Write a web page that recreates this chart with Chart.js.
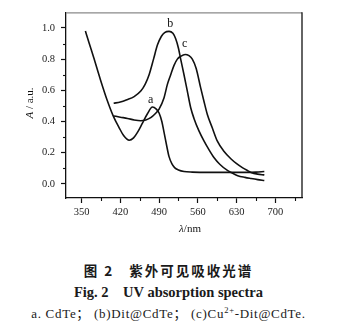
<!DOCTYPE html>
<html>
<head>
<meta charset="utf-8">
<script src="https://cdn.jsdelivr.net/npm/chart.js@4.4.1/dist/chart.umd.min.js"></script>
<style>
  html, body { margin: 0; padding: 0; background: #fff; }
  body { width: 337px; height: 334px; position: relative; overflow: hidden; }
  #chart { position: absolute; left: 0; top: 0; }
  .cap { position: absolute; left: 0; width: 337px; text-align: center; color: #1a1a1a; white-space: pre; }
  #cap1 { top: 260px; font: bold 13.5px "Noto Sans CJK SC", sans-serif; letter-spacing: 2px; }
  #cap2 { top: 284px; font: bold 14.5px "Liberation Serif", serif; }
  #cap3 { top: 303px; font: 13px "Liberation Serif", "Noto Sans CJK SC", serif; letter-spacing: 0.7px; }
</style>
</head>
<body>
<canvas id="chart" width="337" height="240"></canvas>
<div class="cap" id="cap1">图 2   紫外可见吸收光谱</div>
<div class="cap" id="cap2">Fig. 2    UV absorption spectra</div>
<div class="cap" id="cap3">a. CdTe； (b)Dit@CdTe； (c)Cu<sup style="font-size:8.5px;line-height:0">2+</sup>-Dit@CdTe.</div>
<script>
// Absorption spectra (wavelength in nm, absorbance in a.u.)
const wavelengthA = [357, 364, 372, 384, 396, 408, 418, 426, 436, 444, 451, 460, 469, 478, 485, 490, 495, 499, 504, 508, 513, 518, 525, 535, 550, 580, 620, 650, 665, 680];
const absorbanceA = [0.98, 0.90, 0.81, 0.67, 0.54, 0.43, 0.36, 0.31, 0.28, 0.295, 0.33, 0.39, 0.45, 0.493, 0.48, 0.455, 0.40, 0.33, 0.24, 0.175, 0.13, 0.105, 0.09, 0.08, 0.076, 0.074, 0.074, 0.074, 0.076, 0.08];

const wavelengthB = [408, 420, 432, 445, 457, 465, 472, 480, 487, 494, 500, 508, 515, 520, 525, 529, 535, 541, 547, 553, 562, 571, 580, 589, 600, 614, 622, 632, 645, 656, 668, 680];
const absorbanceB = [0.517, 0.525, 0.54, 0.56, 0.595, 0.64, 0.70, 0.80, 0.89, 0.945, 0.97, 0.978, 0.965, 0.93, 0.87, 0.80, 0.70, 0.595, 0.49, 0.42, 0.34, 0.276, 0.22, 0.17, 0.125, 0.085, 0.07, 0.053, 0.042, 0.035, 0.028, 0.022];

const wavelengthC = [408, 420, 433, 445, 457, 466, 475, 483, 490, 499, 505, 511, 517, 523, 529, 537, 544, 550, 557, 565, 571, 577, 586, 595, 607, 620, 630, 641, 650, 656, 668, 680];
const absorbanceC = [0.436, 0.428, 0.42, 0.41, 0.405, 0.41, 0.425, 0.45, 0.48, 0.553, 0.638, 0.70, 0.76, 0.80, 0.818, 0.83, 0.822, 0.80, 0.74, 0.617, 0.53, 0.447, 0.36, 0.276, 0.21, 0.16, 0.13, 0.103, 0.085, 0.074, 0.063, 0.058];

const curveNames = ['a', 'b', 'c'];
// where each curve's letter sits: [wavelength, absorbance]
const curveTagAt = [[475, 0.54], [510, 1.025], [536, 0.895]];

const xTickValues = [350, 420, 490, 560, 630, 700];
const xMinorValues = [385, 455, 525, 595, 665, 735];
const yTickValues = [0.0, 0.2, 0.4, 0.6, 0.8, 1.0];
const yMinorValues = [0.1, 0.3, 0.5, 0.7, 0.9];

const ink = '#111';
const serif = '"Liberation Serif", "Times New Roman", serif';

function toPoints(xs, ys) { return xs.map((x, i) => ({ x: x, y: ys[i] })); }

const seriesStyle = {
  borderColor: ink,
  borderWidth: 1.6,
  pointRadius: 0,
  fill: false,
  cubicInterpolationMode: 'monotone'
};

const decor = {
  id: 'decor',
  afterDraw(chart) {
    const { ctx, chartArea: a, scales } = chart;
    const xs = scales.x, ys = scales.y;
    ctx.save();
    // frame: top edge lighter, right edge black
    ctx.lineWidth = 1.3;
    ctx.strokeStyle = '#8a8a8a';
    ctx.beginPath(); ctx.moveTo(a.left, a.top + 0.5); ctx.lineTo(a.right, a.top + 0.5); ctx.stroke();
    ctx.strokeStyle = ink;
    ctx.beginPath(); ctx.moveTo(a.right, a.top); ctx.lineTo(a.right, a.bottom); ctx.stroke();
    // minor ticks, outward
    ctx.lineWidth = 1.1;
    xMinorValues.forEach(v => {
      const px = Math.round(xs.getPixelForValue(v)) + 0.5;
      ctx.beginPath(); ctx.moveTo(px, a.bottom); ctx.lineTo(px, a.bottom + 3); ctx.stroke();
    });
    yMinorValues.forEach(v => {
      const py = Math.round(ys.getPixelForValue(v)) + 0.5;
      ctx.beginPath(); ctx.moveTo(a.left, py); ctx.lineTo(a.left - 3, py); ctx.stroke();
    });
    // curve letters
    ctx.fillStyle = ink;
    ctx.font = '12px ' + serif;
    ctx.textAlign = 'center';
    ctx.textBaseline = 'middle';
    curveNames.forEach((n, i) => {
      ctx.fillText(n, xs.getPixelForValue(curveTagAt[i][0]), ys.getPixelForValue(curveTagAt[i][1]));
    });
    // x title: italic lambda + "/nm"
    const tx = (a.left + a.right) / 2 + 6, ty = 229;
    const p1 = 'λ', p2 = '/nm';
    ctx.font = 'italic 11px ' + serif;
    const w1 = ctx.measureText(p1).width;
    ctx.font = '11px ' + serif;
    const w2 = ctx.measureText(p2).width;
    let sx = tx - (w1 + w2) / 2;
    ctx.textAlign = 'left';
    ctx.font = 'italic 11px ' + serif;
    ctx.fillText(p1, sx, ty);
    ctx.font = '11px ' + serif;
    ctx.fillText(p2, sx + w1, ty);
    // y title: italic A + " / a.u.", rotated
    ctx.translate(30, 103);
    ctx.rotate(-Math.PI / 2);
    const q1 = 'A', q2 = ' / a.u.';
    ctx.font = 'italic 11px ' + serif;
    const v1 = ctx.measureText(q1).width;
    ctx.font = '11px ' + serif;
    const v2 = ctx.measureText(q2).width;
    sx = -(v1 + v2) / 2;
    ctx.font = 'italic 11px ' + serif;
    ctx.fillText(q1, sx, 0);
    ctx.font = '11px ' + serif;
    ctx.fillText(q2, sx + v1, 0);
    ctx.restore();
  }
};

new Chart(document.getElementById('chart'), {
  type: 'line',
  data: {
    datasets: [
      Object.assign({ label: 'a', data: toPoints(wavelengthA, absorbanceA) }, seriesStyle),
      Object.assign({ label: 'b', data: toPoints(wavelengthB, absorbanceB) }, seriesStyle),
      Object.assign({ label: 'c', data: toPoints(wavelengthC, absorbanceC) }, seriesStyle)
    ]
  },
  options: {
    responsive: false,
    animation: false,
    devicePixelRatio: 1,
    layout: { padding: { left: 0, right: 35, top: 12, bottom: 0 } },
    plugins: { legend: { display: false }, tooltip: { enabled: false } },
    scales: {
      x: {
        type: 'linear',
        min: 322, max: 748,
        afterFit(s) { s.height = 42; },
        afterBuildTicks(s) { s.ticks = xTickValues.map(v => ({ value: v })); },
        grid: { display: true, drawOnChartArea: false, drawTicks: true, tickLength: 5, tickColor: ink, tickWidth: 1.2 },
        border: { display: true, color: ink, width: 1.3 },
        ticks: { color: '#222', font: { family: serif, size: 10.5 }, padding: 3, maxRotation: 0, autoSkip: false, callback: v => String(v) }
      },
      y: {
        type: 'linear',
        min: -0.09, max: 1.1,
        afterFit(s) { s.width = 66; },
        afterBuildTicks(s) { s.ticks = yTickValues.map(v => ({ value: v })); },
        grid: { display: true, drawOnChartArea: false, drawTicks: true, tickLength: 5, tickColor: ink, tickWidth: 1.2 },
        border: { display: true, color: ink, width: 1.3 },
        ticks: { color: '#222', font: { family: serif, size: 10.5 }, padding: 6, autoSkip: false, callback: v => Number(v).toFixed(1) }
      }
    }
  },
  plugins: [decor]
});
</script>
</body>
</html>
